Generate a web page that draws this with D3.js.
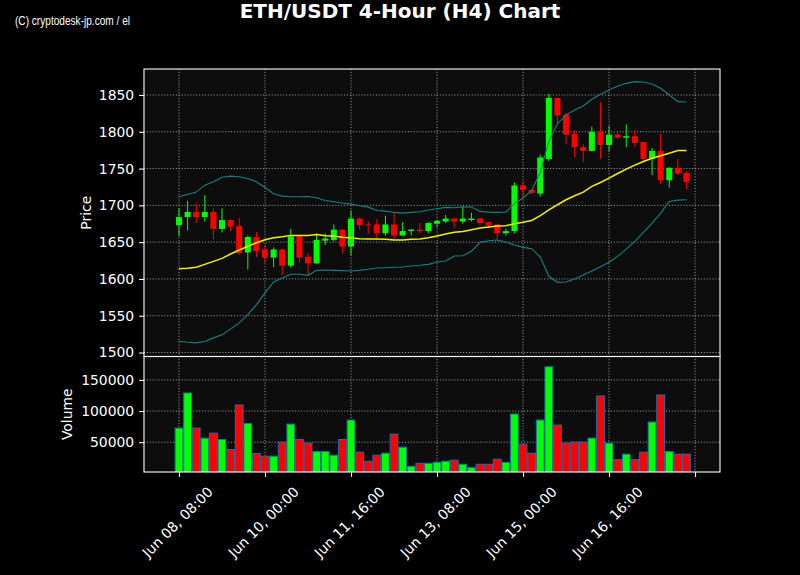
<!DOCTYPE html>
<html><head><meta charset="utf-8">
<script src="https://cdn.jsdelivr.net/npm/d3@7/dist/d3.min.js"></script>
<style>body{margin:0;background:#000}svg{display:block}</style>
</head><body><svg id="c" width="800" height="575"></svg>
<script>
// ---------- DATA ----------
const startTime = "2023-06-08T08:00:00Z"; // first 4h candle
const opens  = [1673,1684,1691,1684,1691,1668,1680,1672,1636,1657,1640,1629,1640,1618,1658,1630,1621,1652,1653,1667,1644,1682,1674,1674,1662,1674,1659,1665,1667,1665,1675,1678,1682,1678,1680,1682,1677,1674,1662,1665,1727,1721,1716,1763,1846,1823,1797,1779,1774,1800,1782,1796,1792,1794,1786,1763,1774,1734,1751,1744];
const highs  = [1696,1706,1703,1714,1696,1696,1681,1683,1659,1664,1646,1643,1641,1668,1659,1635,1662,1662,1674,1667,1693,1683,1678,1681,1686,1690,1677,1668,1676,1677,1680,1687,1683,1698,1690,1683,1678,1675,1668,1731,1732,1722,1769,1851,1846,1826,1802,1783,1807,1840,1808,1800,1810,1802,1786,1778,1797,1752,1763,1746];
const lows   = [1658,1666,1676,1678,1654,1663,1665,1633,1613,1630,1622,1616,1605,1615,1622,1604,1621,1646,1651,1635,1632,1667,1661,1653,1659,1653,1658,1659,1662,1662,1670,1676,1670,1675,1678,1673,1669,1654,1659,1662,1711,1715,1712,1760,1812,1783,1765,1759,1773,1763,1773,1790,1779,1779,1760,1741,1729,1724,1741,1722];
const closes = [1684,1691,1684,1691,1668,1680,1671,1635,1657,1638,1629,1640,1618,1658,1629,1621,1653,1655,1667,1644,1682,1673,1673,1662,1674,1659,1665,1667,1665,1676,1679,1682,1678,1682,1682,1676,1673,1662,1665,1727,1721,1717,1765,1846,1822,1796,1779,1774,1800,1782,1796,1792,1794,1785,1763,1774,1734,1751,1743,1732];
const volumes = [72600,129000,72600,56400,64500,54300,38200,109700,80100,31700,27400,27400,50000,79000,54300,48400,34900,34900,29000,54300,85500,33900,19400,29000,32300,62900,41900,11300,16100,16100,17700,19400,21000,14500,9100,14500,14500,22600,17700,95200,46800,32300,85500,171000,77400,48400,50000,50000,56500,124200,48400,22000,30700,22000,33900,82300,125800,34900,30700,30700];
const sma20   = [1614,1614.4,1615.8,1619.8,1623.9,1628,1633.9,1639.3,1644.3,1649.2,1653.3,1656,1657.4,1659.2,1659.2,1659.2,1660.5,1658.7,1658.3,1656.5,1655.6,1654.7,1654.2,1654.2,1653.8,1652.9,1652.9,1653.8,1654.2,1656,1658.3,1661,1663.3,1664.6,1666.9,1669.1,1670.5,1671.9,1672.3,1675,1677,1679.5,1685.9,1694,1700.8,1707.6,1713,1718,1725.7,1731.1,1737,1743.3,1749.2,1754.6,1759.6,1764.1,1767.3,1770.9,1774.5,1774.5];
const bbUpper = [1712.1,1714.8,1718,1727.5,1732,1738.3,1739.7,1738.8,1736.5,1732,1724.3,1715.7,1712.5,1711.6,1711.6,1712.1,1710.3,1706.7,1704.9,1703.1,1701.7,1699.4,1697.6,1693.1,1692.2,1690.4,1689.5,1690.4,1691.3,1693.6,1695.4,1697.2,1696.7,1698.1,1697.6,1691.8,1690.8,1690.4,1690.8,1702.6,1710,1720,1745,1787,1811,1822.9,1829.7,1835.1,1844.1,1850.9,1856.8,1862.2,1865.8,1868.1,1867.7,1864.9,1859.1,1850,1841,1840.5];
const bbLower = [1515.4,1514,1513.1,1514.9,1519.9,1524,1532.1,1540.3,1551.6,1565.1,1581,1595.9,1601.3,1606.3,1606.3,1604.9,1611.7,1612.2,1611.7,1611.3,1610.8,1611.7,1613.1,1614.9,1615.3,1615.8,1616.2,1617.6,1618.5,1619.8,1623,1624.4,1631.2,1631.6,1637.5,1649.7,1652,1652.9,1650.1,1646.1,1642.9,1641.1,1629.8,1603.6,1595.4,1595.9,1600,1605.4,1610.8,1616.7,1622.6,1630.7,1640.6,1651.1,1663.3,1675.9,1689.5,1705.3,1707.1,1707.6];
const priceTicks  = [1500,1550,1600,1650,1700,1750,1800,1850];
const volumeTicks = [50000,100000,150000];
const xTickDates  = ["2023-06-08T08:00:00Z","2023-06-10T00:00:00Z","2023-06-11T16:00:00Z","2023-06-13T08:00:00Z","2023-06-15T00:00:00Z","2023-06-16T16:00:00Z","2023-06-18T08:00:00Z"];
const xTickLabels = ["Jun 08, 08:00","Jun 10, 00:00","Jun 11, 16:00","Jun 13, 08:00","Jun 15, 00:00","Jun 16, 16:00",""];
const titleText = "ETH/USDT 4-Hour (H4) Chart";
const watermark = "(C) cryptodesk-jp.com / el";

// ---------- LAYOUT ----------
const L = 144, R = 720, PT = 69, PB = 356.5, VT = 356.5, VB = 472;
const FS = 13.9, FONT = "DejaVu Sans, sans-serif";
const UP = "#00ff00", DN = "#ff0000";
const HOUR = 3600e3;
const t0 = new Date(startTime);
const dates = closes.map((_, i) => new Date(+t0 + i * 4 * HOUR));

const svg = d3.select("#c").style("font-family", FONT);
svg.append("rect").attr("width", 800).attr("height", 575).attr("fill", "#000");

const x = d3.scaleUtc()
  .domain([new Date(+t0 - 16.28 * HOUR), new Date(+t0 + 251.6 * HOUR)])
  .range([L, R]);
const yP = d3.scaleLinear().domain([1494.6, 1885.3]).range([PB, PT]);
const yV = d3.scaleLinear().domain([2100, 187580]).range([VB, VT]);
const step = x(dates[1]) - x(dates[0]);

// panels background
[[PT, PB], [VT, VB]].forEach(([a, b]) => {
  svg.append("rect").attr("x", L).attr("y", a).attr("width", R - L).attr("height", b - a).attr("fill", "#0d0d0d");
});
const defs = svg.append("defs");
defs.append("clipPath").attr("id", "cp").append("rect").attr("x", L).attr("y", PT).attr("width", R - L).attr("height", PB - PT);
defs.append("clipPath").attr("id", "cv").append("rect").attr("x", L).attr("y", VT).attr("width", R - L).attr("height", VB - VT);

// grid
const grid = svg.append("g").attr("stroke", "#9a9a9a").attr("stroke-width", 1).attr("stroke-dasharray", "1.1,1.8");
const tickD = xTickDates.map(d => new Date(d));
tickD.forEach(d => {
  grid.append("line").attr("x1", x(d)).attr("x2", x(d)).attr("y1", PT).attr("y2", VB);
});
priceTicks.forEach(p => grid.append("line").attr("x1", L).attr("x2", R).attr("y1", yP(p)).attr("y2", yP(p)));
volumeTicks.forEach(v => grid.append("line").attr("x1", L).attr("x2", R).attr("y1", yV(v)).attr("y2", yV(v)));

// candles
const cg = svg.append("g").attr("clip-path", "url(#cp)");
const bodyW = step * 0.7;
dates.forEach((d, i) => {
  const col = closes[i] >= opens[i] ? UP : DN;
  const cx = x(d);
  cg.append("line").attr("x1", cx).attr("x2", cx).attr("y1", yP(highs[i])).attr("y2", yP(lows[i]))
    .attr("stroke", col).attr("stroke-width", 1);
  const top = yP(Math.max(opens[i], closes[i])), bot = yP(Math.min(opens[i], closes[i]));
  cg.append("rect").attr("x", cx - bodyW / 2).attr("width", bodyW)
    .attr("y", top).attr("height", Math.max(bot - top, 1)).attr("fill", col);
});

// indicator lines
const mkLine = arr => d3.line().x((_, i) => x(dates[i])).y(v => yP(v))(arr);
const lg = svg.append("g").attr("clip-path", "url(#cp)").attr("fill", "none");
lg.append("path").attr("d", mkLine(bbUpper)).attr("stroke", "#158282").attr("stroke-width", 1.1);
lg.append("path").attr("d", mkLine(bbLower)).attr("stroke", "#158282").attr("stroke-width", 1.1);
lg.append("path").attr("d", mkLine(sma20)).attr("stroke", "#f2f200").attr("stroke-width", 1.5);

// volume bars
const vg = svg.append("g").attr("clip-path", "url(#cv)");
const barW = step * 0.9;
dates.forEach((d, i) => {
  const col = closes[i] >= opens[i] ? UP : DN;
  vg.append("rect").attr("x", x(d) - barW / 2).attr("width", barW)
    .attr("y", yV(volumes[i])).attr("height", VB + 2 - yV(volumes[i]))
    .attr("fill", col).attr("stroke", "#1f6fae").attr("stroke-width", 1);
});

// spines
[[PT, PB], [VT, VB]].forEach(([a, b]) => {
  svg.append("rect").attr("x", L).attr("y", a).attr("width", R - L).attr("height", b - a)
    .attr("fill", "none").attr("stroke", "#fff").attr("stroke-width", 1.1);
});

// axes
function styleAxis(g) {
  g.select(".domain").remove();
  g.selectAll(".tick line").attr("stroke", "#fff").attr("stroke-width", 1.1);
  g.selectAll(".tick text").attr("fill", "#fff").style("font-size", FS + "px").style("font-family", FONT);
}
svg.append("g").attr("transform", `translate(${L},0)`)
  .call(d3.axisLeft(yP).tickValues(priceTicks).tickSize(4.9).tickPadding(4.9).tickFormat(d3.format("d")))
  .call(styleAxis);
svg.append("g").attr("transform", `translate(${L},0)`)
  .call(d3.axisLeft(yV).tickValues(volumeTicks).tickSize(4.9).tickPadding(4.9).tickFormat(d3.format("d")))
  .call(styleAxis);
const xa = svg.append("g").attr("transform", `translate(0,${VB})`)
  .call(d3.axisBottom(x).tickValues(tickD).tickSize(4.9).tickFormat((d, i) => xTickLabels[i]))
  .call(styleAxis);
xa.selectAll(".tick text").each(function () {
  const t = d3.select(this);
  const len = this.getComputedTextLength();
  const half = (len + FS * 1.05) * Math.SQRT1_2 / 2;
  t.attr("text-anchor", "middle").attr("y", null).attr("dy", null)
   .attr("dominant-baseline", "central")
   .attr("transform", `translate(-2,${12 + half}) rotate(-45)`);
});

// axis labels
svg.append("text").attr("transform", `translate(91,${(PT + PB) / 2}) rotate(-90)`)
  .attr("text-anchor", "middle").attr("fill", "#fff").style("font-size", FS + "px").text("Price");
svg.append("text").attr("transform", `translate(72,${(VT + VB) / 2}) rotate(-90)`)
  .attr("text-anchor", "middle").attr("fill", "#fff").style("font-size", FS + "px").text("Volume");

// title & watermark
svg.append("text").attr("x", 400).attr("y", 17.5).attr("text-anchor", "middle")
  .attr("fill", "#fff").style("font-size", "20px").style("font-weight", "bold").text(titleText);
svg.append("text").attr("x", 15).attr("y", 25).attr("fill", "#fff")
  .style("font-family", "Liberation Sans Narrow, Liberation Sans, sans-serif").style("font-size", "12.5px")
  .attr("textLength", 115).attr("lengthAdjust", "spacingAndGlyphs").text(watermark);
</script></body></html>
